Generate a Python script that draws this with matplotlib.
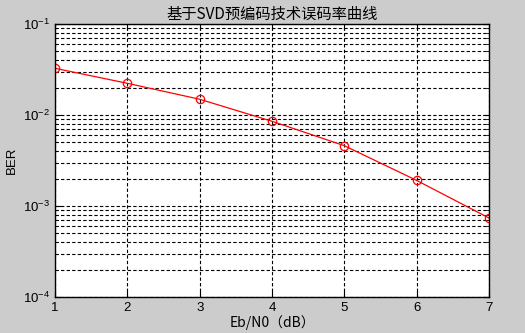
import matplotlib
matplotlib.use("Agg")
import matplotlib.pyplot as plt
from matplotlib.ticker import LogLocator, FixedLocator, NullFormatter

plt.rcParams['font.family'] = ['Liberation Sans', 'Noto Sans CJK SC', 'DejaVu Sans']
plt.rcParams['mathtext.fontset'] = 'custom'
plt.rcParams['mathtext.rm'] = 'Liberation Sans'

# data
ebn0 = [1, 2, 3, 4, 5, 6, 7]
ber = [0.0326, 0.0223, 0.0149, 0.00853, 0.00460, 0.00191, 0.000738]
y_ticks = [1e-4, 1e-3, 1e-2, 1e-1]
y_tick_labels = ['$10^{-4}$', '$10^{-3}$', '$10^{-2}$', '$10^{-1}$']

title = '基于SVD预编码技术误码率曲线'
xlabel = 'Eb/N0（dB）'
ylabel = 'BER'

fig = plt.figure(figsize=(5.25, 3.33), dpi=100, facecolor='#cccccc')
ax = fig.add_axes([55 / 525, 36 / 333, 434 / 525, 273 / 333])
ax.set_facecolor('white')

ax.semilogy(ebn0, ber, color='red', linewidth=0.9, marker='o', markersize=6,
            markerfacecolor='none', markeredgecolor='red', markeredgewidth=0.9)

ax.set_xlim(1, 7)
ax.set_ylim(1e-4, 1e-1)
ax.set_xticks(ebn0)
ax.yaxis.set_major_locator(FixedLocator(y_ticks))
ax.set_yticklabels(y_tick_labels)
ax.yaxis.set_minor_locator(LogLocator(base=10, subs=range(2, 10)))
ax.yaxis.set_minor_formatter(NullFormatter())

grid_kw = dict(color='black', linestyle=(0, (3, 2)), linewidth=0.8)
ax.grid(True, which='major', axis='both', **grid_kw)
ax.grid(True, which='minor', axis='y', **grid_kw)

ax.tick_params(which='both', direction='in', labelsize=9.5, colors='black',
               top=True, right=True)
ax.tick_params(which='major', length=4)
ax.tick_params(which='minor', length=2)
for s in ax.spines.values():
    s.set_linewidth(1.0)
    s.set_color('black')

ax.set_title(title, fontsize=11, family=['Noto Sans CJK SC', 'DejaVu Sans'], pad=4)
ax.set_xlabel(xlabel, fontsize=10, family=['Noto Sans CJK SC', 'DejaVu Sans'], labelpad=1)
ax.set_ylabel(ylabel, fontsize=9.5, labelpad=4)

plt.savefig('out.png', dpi=100, facecolor=fig.get_facecolor())
